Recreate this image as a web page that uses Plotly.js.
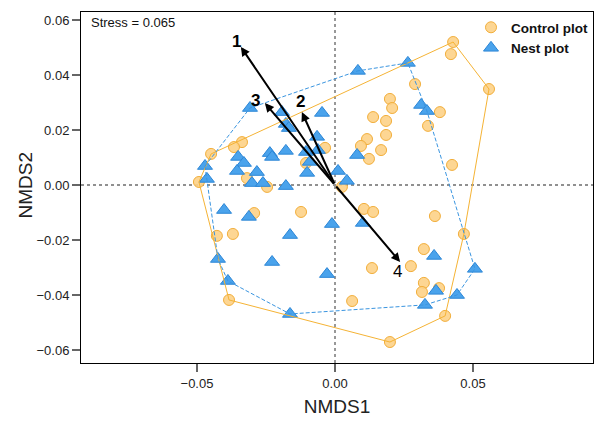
<!DOCTYPE html>
<html>
<head>
<meta charset="utf-8">
<script src="https://cdn.plot.ly/plotly-3.0.1.min.js"></script>
<style>html,body{margin:0;padding:0;background:#fff;}#chart{width:597px;height:425px;}</style>
</head>
<body>
<div id="chart"></div>
<script>
// Control plot (circles)
const ctrlX = [-0.0337,-0.0366,-0.0449,-0.0493,-0.0319,-0.0246,-0.0105,-0.0036,0.0025,
  0.0428,0.0420,0.0558,0.0290,0.0199,0.0207,0.0138,0.0185,0.0380,0.0185,0.0116,0.0094,0.0167,0.0123,0.0337,0.0424,
  -0.0293,-0.0370,-0.0428,-0.0384,
  -0.0123,0.0105,0.0138,0.0134,0.0062,0.0199,
  0.0362,0.0467,0.0322,0.0275,0.0322,0.0315,0.0377,0.0399];
const ctrlY = [0.0156,0.0138,0.0113,0.0011,0.0025,-0.0007,0.0080,0.0135,-0.0007,
  0.0520,0.0476,0.0349,0.0367,0.0313,0.0280,0.0247,0.0233,0.0265,0.0182,0.0167,0.0142,0.0127,0.0095,0.0215,0.0073,
  -0.0102,-0.0178,-0.0185,-0.0418,
  -0.0098,-0.0087,-0.0098,-0.0302,-0.0422,-0.0571,
  -0.0113,-0.0178,-0.0233,-0.0295,-0.0356,-0.0389,-0.0375,-0.0476];
// Nest plot (triangles)
const nestX = [-0.0471,-0.0464,-0.0308,-0.0192,-0.0047,-0.0178,-0.0167,-0.0065,-0.0236,-0.0228,-0.0178,-0.0105,-0.0062,
  -0.0091,-0.0101,0.0011,0.0043,-0.0351,-0.0330,-0.0355,-0.0283,-0.0301,-0.0261,-0.0178,-0.0402,-0.0312,-0.0163,
  -0.0424,-0.0228,-0.0388,-0.0163,-0.0011,0.0101,-0.0029,0.0359,0.0366,0.0442,0.0507,0.0326,0.0083,0.0264,0.0312,0.0333,0.0080];
const nestY = [0.0069,0.0022,0.0280,0.0265,0.0262,0.0222,0.0207,0.0175,0.0116,0.0102,0.0124,0.0120,0.0127,
  0.0084,0.0044,0.0051,0.0015,0.0102,0.0080,0.0051,0.0047,0.0007,0.0007,-0.0004,-0.0091,-0.0116,-0.0182,
  -0.0269,-0.0280,-0.0349,-0.0469,-0.0142,-0.0138,-0.0324,-0.0258,-0.0385,-0.0400,-0.0305,-0.0436,0.0415,0.0444,0.0291,0.0269,0.0109];
// Vectors (arrows from origin)
const vecLabels = ['1','2','3','4'];
const vecX = [-0.0341,-0.0120,-0.0254,0.0236];
const vecY = [0.0502,0.0265,0.0298,-0.0280];
const groupNames = ['Control plot','Nest plot'];
const stressText = 'Stress = 0.065';
const xTitle = 'NMDS1', yTitle = 'NMDS2';

function hull(xs, ys) {
  const pts = xs.map((x,i)=>[x,ys[i]]).sort((a,b)=>a[0]-b[0]||a[1]-b[1]);
  const cross=(o,a,b)=>(a[0]-o[0])*(b[1]-o[1])-(a[1]-o[1])*(b[0]-o[0]);
  const lower=[];for(const p of pts){while(lower.length>=2&&cross(lower[lower.length-2],lower[lower.length-1],p)<=0)lower.pop();lower.push(p);}
  const upper=[];for(let i=pts.length-1;i>=0;i--){const p=pts[i];while(upper.length>=2&&cross(upper[upper.length-2],upper[upper.length-1],p)<=0)upper.pop();upper.push(p);}
  upper.pop();lower.pop();
  const h=lower.concat(upper);h.push(h[0]);
  return {x:h.map(p=>p[0]), y:h.map(p=>p[1])};
}
const hc = hull(ctrlX, ctrlY), hn = hull(nestX, nestY);

const FONT = 'Arial, "Liberation Sans", sans-serif';
const traces = [
  {type:'scatter', mode:'markers', name:groupNames[0], x:ctrlX, y:ctrlY,
   marker:{symbol:'circle', size:11, color:'rgba(253,210,135,0.9)', line:{color:'#F2AE3A', width:1}}},
  {type:'scatter', mode:'markers', name:groupNames[1], x:nestX, y:nestY,
   marker:{symbol:'triangle-up', size:13, color:'#4AA3EC', line:{color:'#2C86D6', width:1}}},
  {type:'scatter', mode:'lines', x:hc.x, y:hc.y, showlegend:false, hoverinfo:'skip',
   line:{color:'#F5B335', width:1}},
  {type:'scatter', mode:'lines', x:hn.x, y:hn.y, showlegend:false, hoverinfo:'skip',
   line:{color:'#3A95E0', width:1, dash:'4px,2px'}}
];

const shifts = [[-4,5],[-1,11],[-9,3],[-3,-9]];
const annotations = [];
vecX.forEach((vx,i)=>{
  annotations.push({x:vx, y:vecY[i], xref:'x', yref:'y', ax:0, ay:0, axref:'x', ayref:'y',
    showarrow:true, arrowhead:2, arrowsize:0.9, arrowwidth:2, arrowcolor:'#000', text:'', standoff:0});
  annotations.push({x:vx, y:vecY[i], xref:'x', yref:'y', showarrow:false,
    text: i<3 ? '<b>'+vecLabels[i]+'</b>' : vecLabels[i],
    xshift:shifts[i][0], yshift:shifts[i][1], font:{family:FONT, size:17, color:'#000'}});
});
annotations.push({xref:'paper', yref:'paper', x:0, y:1, xanchor:'left', yanchor:'top', xshift:8, yshift:-1,
  showarrow:false, text:stressText, font:{family:FONT, size:13, color:'#111'}});
annotations.push({xref:'paper', yref:'paper', x:0, y:0.5, xanchor:'center', yanchor:'middle', xshift:-56, yshift:2,
  textangle:-90, showarrow:false, text:yTitle, font:{family:FONT, size:19, color:'#222'}});

const layout = {
  width:597, height:425,
  margin:{l:81, r:4, t:12, b:62},
  paper_bgcolor:'#fff', plot_bgcolor:'#fff',
  font:{family:FONT, color:'#111'},
  showlegend:true,
  legend:{x:1, xanchor:'right', y:1, yanchor:'top', bgcolor:'rgba(0,0,0,0)',
    font:{family:FONT, size:13.5, color:'#111', weight:'bold'}, itemwidth:30, tracegroupgap:0},
  xaxis:{range:[-0.09203,0.09348], tickvals:[-0.05,0,0.05], ticktext:['\u22120.05','0.00','0.05'],
    showgrid:false, zeroline:false, showline:true, mirror:true, linecolor:'#000', linewidth:1,
    ticks:'outside', ticklen:8, tickcolor:'#666', tickwidth:1.5, tickfont:{family:FONT, size:13, color:'#222'},
    title:{text:xTitle, font:{family:FONT, size:19, color:'#222'}, standoff:10}},
  yaxis:{range:[-0.06473,0.06291], tickvals:[-0.06,-0.04,-0.02,0,0.02,0.04,0.06],
    ticktext:['\u22120.06','\u22120.04','\u22120.02','0.00','0.02','0.04','0.06'],
    showgrid:false, zeroline:false, showline:true, mirror:true, linecolor:'#000', linewidth:1,
    ticks:'outside', ticklen:8, tickcolor:'#666', tickwidth:1.5, tickfont:{family:FONT, size:13, color:'#222'}},
  shapes:[
    {type:'line', xref:'x', yref:'paper', x0:0, x1:0, y0:0, y1:1, layer:'below', line:{color:'#777', width:1.5, dash:'dot'}},
    {type:'line', xref:'paper', yref:'y', x0:0, x1:1, y0:0, y1:0, layer:'below', line:{color:'#222', width:1.2, dash:'dot'}}
  ],
  annotations:annotations
};
Plotly.newPlot('chart', traces, layout, {staticPlot:true, displayModeBar:false});
</script>
</body>
</html>
